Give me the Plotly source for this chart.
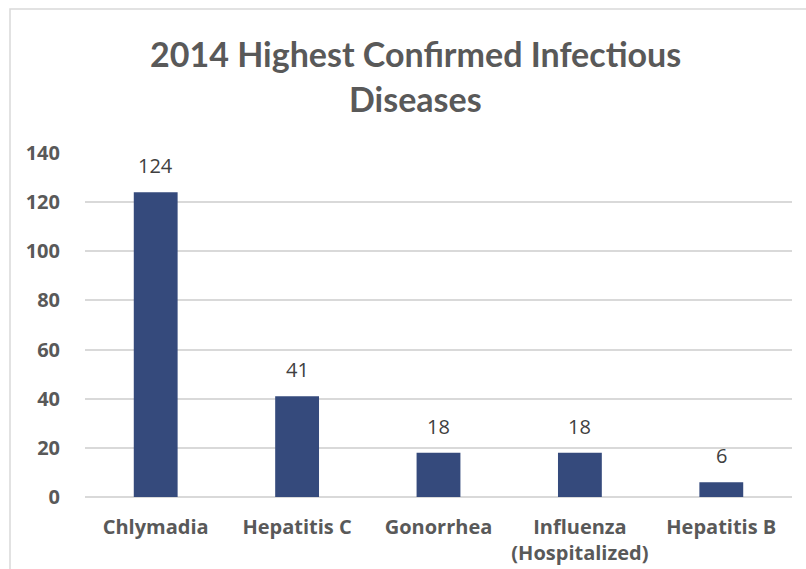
import plotly.graph_objects as go

categories = ["Chlymadia", "Hepatitis C", "Gonorrhea", "Influenza<br>(Hospitalized)", "Hepatitis B"]
values = [124, 41, 18, 18, 6]
y_ticks = [0, 20, 40, 60, 80, 100, 120, 140]
title_lines = ["2014 Highest Confirmed Infectious", "Diseases"]

BAR = "#354A7C"
GRID = "#D9D9D9"
TXT = "#595959"
FONT = "Open Sans"
TFONT = "Lato"

# body margin is removed via post_script, so figure pixels == page pixels
W, H = 806, 569
L, T = 85, 153
R = W - 792
B = H - 497
pw, ph = W - L - R, H - T - B

def px_x(x):
    return (x - L) / pw

def px_y(y):
    return (H - B - y) / ph

fig = go.Figure(go.Bar(
    x=categories, y=values, marker=dict(color=BAR, line=dict(width=0)),
    width=0.31, hoverinfo="skip",
))

for c, v in zip(categories, values):
    fig.add_annotation(x=c, y=v, text=str(v), showarrow=False, yanchor="bottom",
                       yshift=11, font=dict(family=FONT, size=20, color="#404040"))

for line, yc in zip(title_lines, [54, 99]):
    fig.add_annotation(xref="paper", yref="paper", x=px_x(415), y=px_y(yc),
                       xanchor="center", yanchor="middle", text=f"<b>{line}</b>",
                       showarrow=False, font=dict(family=TFONT, size=34, color=TXT))

fig.add_shape(type="rect", xref="paper", yref="paper",
              x0=px_x(10), x1=px_x(830), y0=px_y(590), y1=px_y(9),
              line=dict(color="#D9D9D9", width=1.5), fillcolor="rgba(0,0,0,0)", layer="below")

fig.update_layout(
    width=W, height=H,
    margin=dict(l=L, r=R, t=T, b=B, pad=0, autoexpand=False),
    paper_bgcolor="white", plot_bgcolor="white",
    showlegend=False,
    xaxis=dict(showgrid=False, showline=False, ticks="outside", ticklen=12,
               tickcolor="rgba(0,0,0,0)", automargin=False,
               tickfont=dict(family=FONT, size=20, color=TXT, weight="bold")),
    yaxis=dict(range=[0, 140], tickvals=y_ticks, showgrid=True, gridcolor=GRID,
               gridwidth=1.5, zeroline=True, zerolinecolor=GRID, zerolinewidth=1.5,
               showline=False, ticks="outside", ticklen=20, tickcolor="rgba(0,0,0,0)",
               automargin=False,
               tickfont=dict(family=FONT, size=20, color=TXT, weight="bold")),
)

fig.write_html("out.html", config={"displayModeBar": False},
               post_script="document.body.style.margin='0';document.body.style.overflow='hidden';")
